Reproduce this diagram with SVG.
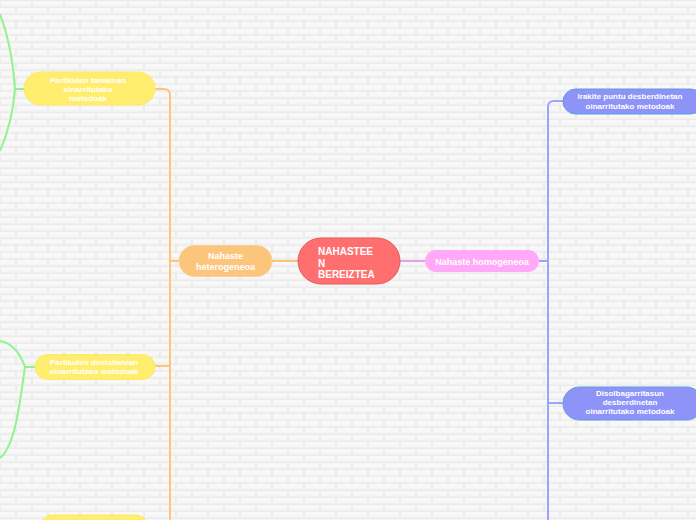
<svg xmlns="http://www.w3.org/2000/svg" width="696" height="520" viewBox="0 0 696 520">
<defs>
<pattern id="bricks" width="32" height="14" patternUnits="userSpaceOnUse">
<rect width="32" height="14" fill="#ebebeb"/>
<rect x="1" y="1" width="30" height="5.5" fill="#f8f8f8"/>
<rect x="-15" y="8" width="30" height="5.5" fill="#f8f8f8"/>
<rect x="17" y="8" width="30" height="5.5" fill="#f8f8f8"/>
<rect x="1" y="5.5" width="30" height="1" fill="#f1f1f1"/>
<rect x="-15" y="12.5" width="30" height="1" fill="#f1f1f1"/>
<rect x="17" y="12.5" width="30" height="1" fill="#f1f1f1"/>
</pattern>
<style>
.t{font-family:"Liberation Sans",Arial,sans-serif;font-weight:bold;fill:#ffffff}
.s{font-size:8px;text-anchor:middle}
.m{font-size:9px;text-anchor:middle}
.or{fill:none;stroke:#ffc47c;stroke-width:2}
.bl{fill:none;stroke:#9aa4ff;stroke-width:2}
.gr{fill:none;stroke:#8ef58e;stroke-width:2}
.pk{fill:none;stroke:#e6a0f2;stroke-width:2}
.yel{fill:#ffee6e;stroke:#ffe96a;stroke-width:1}
.blu{fill:#8e94f7;stroke:#5b9ee0;stroke-width:1}
</style>
</defs>
<rect width="696" height="520" fill="url(#bricks)"/>
<g id="connectors">
<path class="or" d="M298,261 H272"/>
<path class="or" d="M179,261 H170"/>
<path class="or" d="M155,89 H164 Q170,89 170,95 V520"/>
<path class="or" d="M170,366 H155"/>
<path class="pk" d="M400,261 H425"/>
<path class="bl" d="M539,261 H548"/>
<path class="bl" d="M563,101 H554 Q548,101 548,107 V520"/>
<path class="bl" d="M548,403 H563"/>
<path class="gr" d="M24,89 H15"/>
<path class="gr" d="M15,89 C13,60 8,35 0,14"/>
<path class="gr" d="M15,89 C13,115 7,135 0,151"/>
<path class="gr" d="M35,367 H25"/>
<path class="gr" d="M25,367 C20,353 12,343 0,341"/>
<path class="gr" d="M25,367 C20,400 16,445 0,458"/>
</g>
<g id="central">
<rect x="298" y="238" width="102" height="46" rx="23" fill="#ff6f6f" stroke="#e25b5b" stroke-width="1"/>
<text class="t" font-size="10" x="318" y="255">NAHASTEE</text>
<text class="t" font-size="10" x="318" y="266.5">N</text>
<text class="t" font-size="10" x="318" y="278">BEREIZTEA</text>
</g>
<g id="heterogeneoa">
<rect x="179" y="245.5" width="93" height="31" rx="15.5" fill="#fcc57c" stroke="#fbd096" stroke-width="1"/>
<text class="t m" x="225.5" y="258.5">Nahaste</text>
<text class="t m" x="225.5" y="269.5">heterogeneoa</text>
</g>
<g id="homogeneoa">
<rect x="425" y="250" width="114" height="22" rx="11" fill="#ffa9f8"/>
<text class="t m" x="482" y="264.5">Nahaste homogeneoa</text>
</g>
<g id="irakite">
<rect x="563" y="89" width="140" height="25" rx="12.5" class="blu"/>
<text class="t s" x="630" y="99">Irakite puntu desberdinetan</text>
<text class="t s" x="630" y="108.5">oinarritutako metodoak</text>
</g>
<g id="disolbagarritasun">
<rect x="563" y="387" width="140" height="33" rx="16.5" class="blu"/>
<text class="t s" x="630" y="396">Disolbagarritasun</text>
<text class="t s" x="630" y="404.5">desberdinetan</text>
<text class="t s" x="630" y="413.5">oinarritutako metodoak</text>
</g>
<g id="tamainan">
<rect x="24" y="72" width="131" height="33" rx="16.5" class="yel"/>
<text class="t s" x="88" y="83">Partikulen tamainan</text>
<text class="t s" x="88" y="92">oinarritutako</text>
<text class="t s" x="88" y="101">metodoak</text>
</g>
<g id="dentsitatean">
<rect x="35" y="354.5" width="120" height="25" rx="12.5" class="yel"/>
<text class="t s" x="94" y="364.5">Partikulen dentsitatean</text>
<text class="t s" x="94" y="374">oinarritutako metodoak</text>
</g>
<g id="bottom-node">
<rect x="40" y="515" width="108" height="30" rx="12" class="yel"/>
</g>
</svg>
